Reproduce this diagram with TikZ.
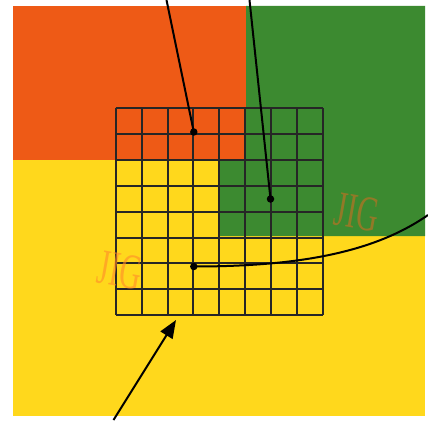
\documentclass[tikz,border=0pt]{standalone}
\usepackage{fontspec}
\setmainfont{Liberation Serif}
\usetikzlibrary{arrows.meta}
\definecolor{cred}{HTML}{EE5A16}
\definecolor{cgreen}{HTML}{3C8A30}
\definecolor{cyellow}{HTML}{FFD81C}
\definecolor{wmark}{HTML}{FF8A2A}
\tikzset{
  gridline/.style={line width=2pt, black!85},
  pointer/.style={line width=2pt, black},
  dotmark/.style={circle, fill=black, inner sep=0pt, minimum size=7.5pt},
  watermark/.style={text=wmark, opacity=0.6, font=\fontsize{50}{50}\selectfont, inner sep=0pt, transform shape}
}
\begin{document}
\begin{tikzpicture}[x=1pt,y=-1pt]
\useasboundingbox (0,0) rectangle (428,420);
\fill[white] (0,0) rectangle (428,420);
% colour fields
\fill[cyellow] (12.7,160) rectangle (425,416);
\fill[cred] (12.7,6) rectangle (246,160);
\fill[cgreen] (246,6) -- (425,6) -- (425,236) -- (219.5,236) -- (219.5,160) -- (246,160) -- cycle;
% grid
\foreach \i in {0,...,8} {
  \draw[gridline] ({115.7+\i*25.9},108.3) -- ({115.7+\i*25.9},315);
  \draw[gridline] (115.7,{108.3+\i*25.84}) -- (323,{108.3+\i*25.84});
}
% watermarks
\begin{scope}[shift={(120,270)}, rotate=-10, xscale=0.6]
\node[watermark] (wm1) at (0,0) {JIG};
\end{scope}
\begin{scope}[shift={(357,212)}, rotate=-10, xscale=0.6]
\node[watermark, text=wmark!80!black] (wm2) at (0,0) {JIG};
\end{scope}
% points
\node[dotmark] (p1) at (193.8,132) {};
\node[dotmark] (p2) at (270.5,199) {};
\node[dotmark] (p3) at (193.8,266.5) {};
\coordinate (t1) at (166.5,0);
\coordinate (t2) at (249.5,0);
\coordinate (r3) at (428,215);
\coordinate (b4) at (113.5,420);
\coordinate (tip4) at (176,320);
\draw[pointer] (t1) -- (p1.center);
\draw[pointer] (t2) -- (p2.center);
\draw[pointer] (p3.center) .. controls (300,266.5) and (375,252) .. (r3);
\draw[pointer, -{Triangle[length=18pt,width=14pt]}] (b4) -- (tip4);
\end{tikzpicture}
\end{document}
